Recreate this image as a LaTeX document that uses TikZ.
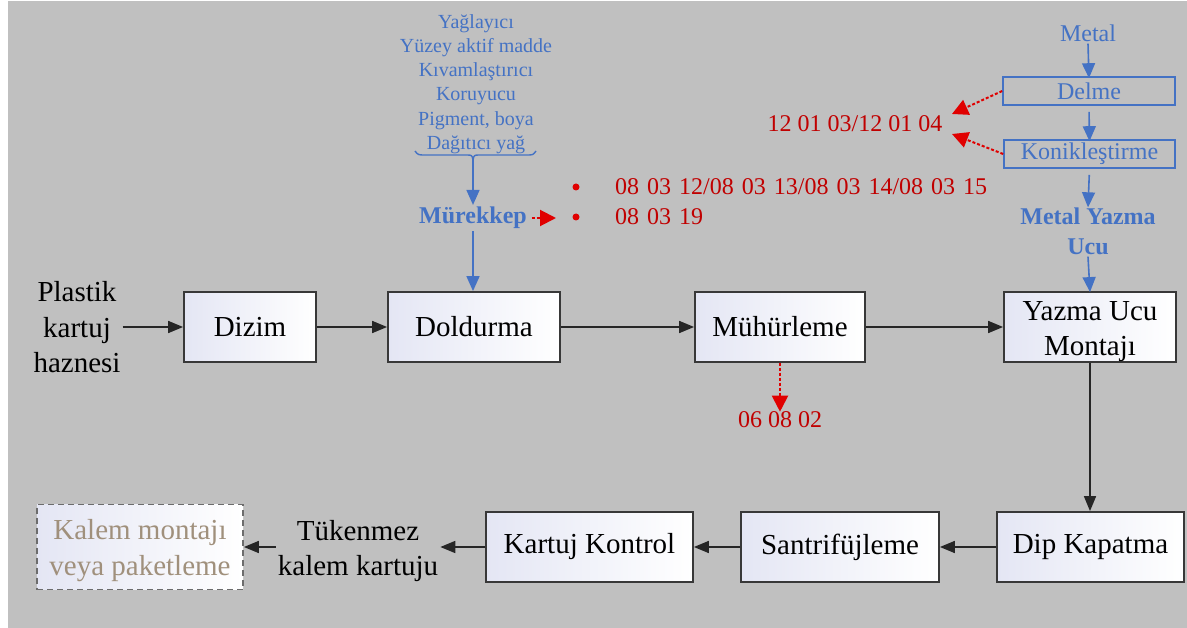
\documentclass[tikz,border=0pt]{standalone}
\usepackage{fontspec}
\setmainfont{Liberation Serif}
\usetikzlibrary{arrows.meta}
\definecolor{bg}{HTML}{C0C0C0}
\definecolor{myblue}{HTML}{4472C4}
\definecolor{myred}{HTML}{C00000}
\definecolor{arrred}{HTML}{E00000}
\definecolor{lav}{HTML}{E4E6F4}
\definecolor{boxline}{HTML}{383838}
\definecolor{paletext}{HTML}{A0907C}
\begin{document}
\begin{tikzpicture}[x=1pt,y=-1pt,
  procbox/.style={draw=boxline,line width=1.8pt,left color=lav,right color=white,
    minimum width=#1,minimum height=70pt,inner sep=0pt,align=center,
    font=\fontsize{29}{35}\selectfont},
  blacktxt/.style={align=center,inner sep=2pt,font=\fontsize{29}{35.5}\selectfont},
  blk/.style={draw=black!85,line width=1.7pt,-{Triangle[length=15pt,width=12pt]}},
  barr/.style={draw=myblue,line width=1.6pt,-{Triangle[length=15pt,width=13pt]}},
  rarr/.style={draw=arrred,line width=2pt,dash pattern=on 3pt off 2pt,-{Triangle[length=16pt,width=16pt,fill=arrred]}},
  bluetxt/.style={text=myblue,inner sep=2pt,font=\fontsize{24}{28}\selectfont},
  bluebold/.style={text=myblue,inner sep=2pt,align=center,font=\bfseries\fontsize{24}{30}\selectfont},
  bluebox/.style={draw=myblue,line width=1.6pt,minimum height=28pt,inner sep=0pt,text=myblue,font=\fontsize{24}{28}\selectfont},
  redtxt/.style={text=myred,inner sep=2pt,font=\fontsize{24}{28}\selectfont},
  reddot/.style={circle,fill=arrred,minimum size=7pt,inner sep=0pt}
]
\useasboundingbox (0,0) rectangle (1187,628);
\fill[white] (0,0) rectangle (1187,628);
\fill[bg] (8,1) rectangle (1187,628);

% top row
\node[blacktxt] (plastik) at (77,327.5) {Plastik\\kartuj\\haznesi};
\node[procbox=132pt] (dizim) at (250,327) {Dizim};
\node[procbox=172pt] (dold) at (474,327) {Doldurma};
\node[procbox=170pt] (muhur) at (780,327) {Mühürleme};
\node[procbox=172pt] (yazma) at (1090,327) {};
\node[blacktxt,yshift=-4.5pt] (yazmat) at (yazma) {Yazma Ucu\\Montajı};

\draw[blk] (plastik.east |- dizim) -- (dizim);
\draw[blk] (dizim) -- (dold);
\draw[blk] (dold) -- (muhur);
\draw[blk] (muhur) -- (yazma);

% bottom row
\node[procbox=187pt] (dip) at (1090.5,547) {Dip Kapatma};
\node[procbox=198pt] (santri) at (840,547) {Santrifüjleme};
\node[procbox=207pt] (kartuj) at (589.5,547) {Kartuj Kontrol};
\node[blacktxt] (tuk) at (358,551) {Tükenmez\\kalem kartuju};
\node[draw=gray!85!black,line width=1.8pt,dash pattern=on 6pt off 4pt,left color=lav,right color=white,
  minimum width=206pt,minimum height=85pt,inner sep=0pt] (kalem) at (140,547) {};
\node[align=center,text=paletext,inner sep=0pt,font=\fontsize{29}{36}\selectfont,yshift=-4pt]
  (kalemt) at (kalem) {Kalem montajı\\veya paketleme};

\draw[blk] (yazma.south) -- (yazma.south |- dip.north);
\draw[blk] (dip) -- (santri);
\draw[blk] (santri) -- (kartuj);
\draw[blk] (kartuj.west) -- (tuk.east |- kartuj);
\draw[blk] (tuk.west |- kartuj) -- (kalem);

% ink components
\node[text=myblue,align=center,inner sep=0pt,font=\fontsize{20}{24.2}\selectfont] (list) at (476,84)
  {Yağlayıcı\\Yüzey aktif madde\\Kıvamlaştırıcı\\Koruyucu\\Pigment, boya\\Dağıtıcı yağ};
\coordinate (bt) at (473,160);
\draw[myblue,line width=1.4pt] (415,151) .. controls (418,155) .. (426,155) -- (466,155)
  .. controls (472,155) .. (bt) .. controls (474,155) .. (480,155) -- (527,155) .. controls (533,155) .. (536,151);
\node[bluebold] (murekkep) at (473,218) {Mürekkep};
\draw[barr] (bt) -- (murekkep.north);
\draw[barr] (murekkep.south) -- (murekkep.south |- dold.north);

\coordinate (rt) at (556,218);
\draw[rarr] ([xshift=3pt]murekkep.east) -- (rt);
\node[reddot] (d1) at (576,187) {};
\node[reddot] (d2) at (576,217) {};
\node[redtxt,anchor=west] (c1) at (613,187) {08\,\,03\,\,12/08\,\,03\,\,13/08\,\,03\,\,14/08\,\,03\,\,15};
\node[redtxt,anchor=west] (c2) at (613,217) {08\,\,03\,\,19};

% sealing waste
\node[redtxt] (c3) at (780,420) {06 08 02};
\draw[rarr] (muhur.south) -- ([yshift=-2pt]c3.north);

% metal tip branch
\node[bluetxt] (metal) at (1088,33) {Metal};
\node[bluebox,minimum width=172pt] (delme) at (1089,91) {Delme};
\node[bluebox,minimum width=171pt] (konik) at (1089.5,154) {Konikleştirme};
\node[bluebold] (myu) at (1088,231) {Metal Yazma\\Ucu};
\draw[barr] (metal.south) -- ([yshift=-2pt]delme.north);
\draw[barr,shorten <=6pt] (delme.south) -- ([yshift=-2pt]konik.north);
\draw[barr,shorten <=6pt] (konik.south) -- ([yshift=-2pt]myu.north);
\draw[barr] (myu.south) -- ([yshift=-1pt]yazma.north);

\node[redtxt] (c4) at (855,124) {12 01 03/12 01 04};
\coordinate (r1) at (952,114);
\coordinate (r2) at (952,134);
\draw[rarr] (delme.west) -- (r1);
\draw[rarr] (konik.west) -- (r2);
\end{tikzpicture}
\end{document}
